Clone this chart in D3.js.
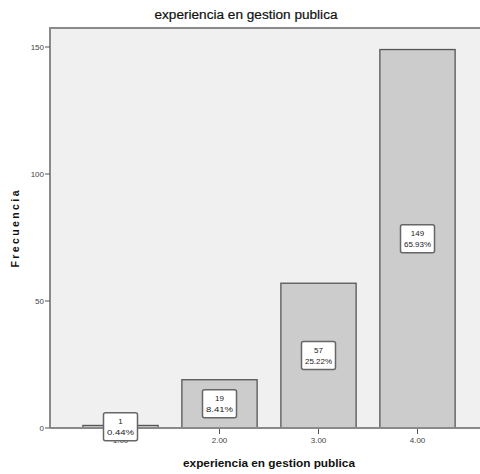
<!DOCTYPE html>
<html><head><meta charset="utf-8">
<script src="https://cdn.jsdelivr.net/npm/d3@7"></script>
<style>
body{margin:0;background:#fff;}
text{font-family:"Liberation Sans","DejaVu Sans",sans-serif;}
</style></head>
<body><svg id="c" width="480" height="474"></svg>
<script>
const categories = ["1.00","2.00","3.00","4.00"];
const counts = [1,19,57,149];
const percents = ["0.44%","8.41%","25.22%","65.93%"];
const yTicks = [0,50,100,150];
const title = "experiencia en gestion publica";
const xTitle = "experiencia en gestion publica";
const yTitle = "Frecuencia";

const svg = d3.select("#c");
const W = 480;
const plotTop = 28, x0 = 50;
const y = d3.scaleLinear().domain([0,150]).range([428,47]);
const x = d3.scaleBand().domain(categories).range([71,467]).paddingInner(0.24).paddingOuter(0.12);

// plot background
svg.append("rect").attr("x",x0).attr("y",plotTop).attr("width",W-x0).attr("height",y(0)-plotTop)
  .attr("fill","#f0f0f0");
svg.append("path").attr("d",`M${x0},${y(0)}V${plotTop}H${W}`).attr("fill","none").attr("stroke","#8a8a8a").attr("stroke-width",2);

// bars
svg.selectAll("rect.bar").data(counts).enter().append("rect").attr("class","bar")
  .attr("x",(d,i)=>x(categories[i])).attr("width",x.bandwidth())
  .attr("y",d=>y(d)).attr("height",d=>y(0)-y(d))
  .attr("fill","#cccccc").attr("stroke","#555").attr("stroke-width",1.3);

// x axis line
svg.append("line").attr("x1",x0).attr("x2",W).attr("y1",y(0)).attr("y2",y(0)).attr("stroke","#8a8a8a").attr("stroke-width",2);

// y ticks
const ya = svg.append("g");
yTicks.forEach(t=>{
  ya.append("line").attr("x1",45).attr("x2",50).attr("y1",y(t)).attr("y2",y(t)).attr("stroke","#555");
  ya.append("text").attr("x",44).attr("y",y(t)+3).attr("text-anchor","end").attr("font-size",8).attr("fill","#444").text(t);
});
// x ticks
categories.forEach(c=>{
  const cx = x(c)+x.bandwidth()/2;
  svg.append("line").attr("x1",cx).attr("x2",cx).attr("y1",y(0)+1).attr("y2",y(0)+6).attr("stroke","#555");
  svg.append("text").attr("x",cx).attr("y",y(0)+15).attr("text-anchor","middle").attr("font-size",8).attr("fill","#444").text(c);
});

// value labels
counts.forEach((d,i)=>{
  const cx = x(categories[i])+x.bandwidth()/2;
  const cy = (y(d)+y(0))/2;
  const g = svg.append("g");
  g.append("rect").attr("x",cx-17).attr("y",cy-14).attr("width",34).attr("height",28).attr("rx",2)
    .attr("fill","#fff").attr("stroke","#666").attr("stroke-width",1.5);
  g.append("text").attr("x",cx).attr("y",cy-3).attr("text-anchor","middle").attr("font-size",8).attr("fill","#222").text(d);
  g.append("text").attr("x",cx).attr("y",cy+8).attr("text-anchor","middle").attr("font-size",8).attr("fill","#222")
    .attr("textLength",27).attr("lengthAdjust","spacingAndGlyphs").text(percents[i]);
});

// titles
svg.append("text").attr("x",246).attr("y",19).attr("text-anchor","middle").attr("font-size",12.5).attr("fill","#111")
  .attr("stroke","#111").attr("stroke-width",0.2)
  .attr("textLength",183).attr("lengthAdjust","spacingAndGlyphs").text(title);
svg.append("text").attr("x",269).attr("y",467).attr("text-anchor","middle").attr("font-size",11).attr("font-weight","bold").attr("fill","#111")
  .attr("textLength",172).attr("lengthAdjust","spacingAndGlyphs").text(xTitle);
svg.append("text").attr("transform","translate(19,229) rotate(-90)").attr("text-anchor","middle").attr("font-size",10.5).attr("font-weight","bold").attr("fill","#111")
  .attr("textLength",77).attr("lengthAdjust","spacing").text(yTitle);
</script></body></html>
